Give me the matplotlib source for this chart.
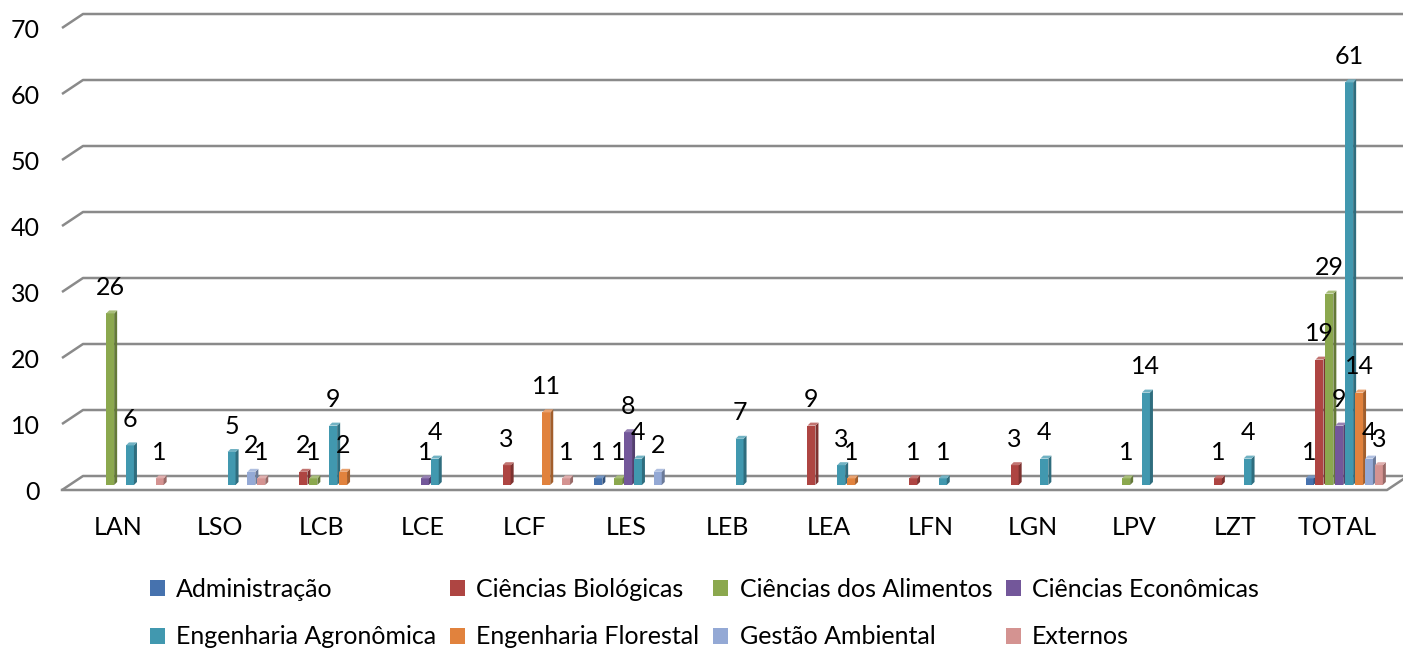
import matplotlib
matplotlib.use('Agg')
import matplotlib.pyplot as plt
from matplotlib.patches import Polygon, Patch
import matplotlib.transforms as mtransforms
import matplotlib.colors as mcolors
import numpy as np

# ---------------- data ----------------
categories = ['LAN', 'LSO', 'LCB', 'LCE', 'LCF', 'LES', 'LEB', 'LEA',
              'LFN', 'LGN', 'LPV', 'LZT', 'TOTAL']
series_names = ['Administração', 'Ciências Biológicas', 'Ciências dos Alimentos',
                'Ciências Econômicas', 'Engenharia Agronômica', 'Engenharia Florestal',
                'Gestão Ambiental', 'Externos']
administracao = [0, 0, 0, 0, 0, 1, 0, 0, 0, 0, 0, 0, 1]
biologicas    = [0, 0, 2, 0, 3, 0, 0, 9, 1, 3, 0, 1, 19]
alimentos     = [26, 0, 1, 0, 0, 1, 0, 0, 0, 0, 1, 0, 29]
economicas    = [0, 0, 0, 1, 0, 8, 0, 0, 0, 0, 0, 0, 9]
agronomica    = [6, 5, 9, 4, 0, 4, 7, 3, 1, 4, 14, 4, 61]
florestal     = [0, 0, 2, 0, 11, 0, 0, 1, 0, 0, 0, 0, 14]
gestao        = [0, 2, 0, 0, 0, 2, 0, 0, 0, 0, 0, 0, 4]
externos      = [1, 1, 0, 0, 1, 0, 0, 0, 0, 0, 0, 0, 3]
y_ticks = [0, 10, 20, 30, 40, 50, 60, 70]

series_values = [administracao, biologicas, alimentos, economicas,
                 agronomica, florestal, gestao, externos]
colors = ['#4672AE', '#AE4542', '#8BA84E', '#73579A',
          '#4198AF', '#E1823D', '#94A9D5', '#D49391']

# ---------------- style ----------------
plt.rcParams['font.family'] = ['Lato', 'DejaVu Sans']
FS = 18
GRID = '#8A8A8A'

W, H, DPI = 1403, 648, 100
fig = plt.figure(figsize=(W / DPI, H / DPI), dpi=DPI)

# geometry (pixels)
px_left, px_right = 62, 1403
px_bottom, px_top = 492, 14
cat0_px, cat_step_px = 118, 101.6
base_px, unit_px = 485, 6.6

ax = fig.add_axes([px_left / W, (H - px_bottom) / H,
                   (px_right - px_left) / W, (px_bottom - px_top) / H])
x_lo = (px_left - cat0_px) / cat_step_px
x_hi = (px_right - cat0_px) / cat_step_px
y_lo = (base_px - px_bottom) / unit_px
y_hi = (base_px - px_top) / unit_px
ax.set_xlim(x_lo, x_hi)
ax.set_ylim(y_lo, y_hi)
for sp in ax.spines.values():
    sp.set_visible(False)

dxp = 1.0 / cat_step_px
dyp = 1.0 / unit_px

# back-wall gridlines with perspective diagonal
front_off = -5 * dyp
back_off = 9 * dyp
x_back = (83 - cat0_px) / cat_step_px
for v in y_ticks:
    ax.plot([x_lo, x_back, x_hi], [v + front_off, v + back_off, v + back_off],
            color=GRID, lw=1.8, zorder=1, clip_on=False, solid_capstyle='butt')
# floor front edge
x_floor_end = (1387 - cat0_px) / cat_step_px
ax.plot([x_lo, x_floor_end, x_floor_end + 21 * dxp],
        [front_off, front_off, back_off],
        color=GRID, lw=1.8, zorder=1, clip_on=False)

# bars with simple 3D faces
step = 9.9 * dxp
bw = 8 * dxp
ddx = 3 * dxp
ddy = 3 * dyp
shift = 7 * dxp
xc = np.arange(len(categories))
n = len(series_values)

def shade(c, f):
    r, g, b = mcolors.to_rgb(c)
    if f < 1:
        return (r * f, g * f, b * f)
    return (r + (1 - r) * (f - 1), g + (1 - g) * (f - 1), b + (1 - b) * (f - 1))

for i, (vals, col, name) in enumerate(zip(series_values, colors, series_names)):
    xs = xc + shift + (i - (n - 1) / 2) * step
    z = 3 + i * 0.1
    ax.bar(xs, vals, width=bw, color=col, linewidth=0, zorder=z, label=name)
    for x, v in zip(xs, vals):
        if v == 0:
            continue
        xr = x + bw / 2
        xl = x - bw / 2
        ax.add_patch(Polygon([(xr, 0), (xr + ddx, ddy), (xr + ddx, v + ddy), (xr, v)],
                             closed=True, facecolor=shade(col, 0.72), lw=0, zorder=z))
        ax.add_patch(Polygon([(xl, v), (xr, v), (xr + ddx, v + ddy), (xl + ddx, v + ddy)],
                             closed=True, facecolor=shade(col, 1.25), lw=0, zorder=z))
        ax.annotate(str(v), (x, v), xytext=(0, 26 * 0.72), textcoords='offset points',
                    ha='center', va='center', fontsize=FS, color='black', zorder=10)

# ticks
ax.set_xticks(xc)
ax.set_xticklabels(categories, fontsize=FS)
ax.set_yticks(y_ticks)
ax.set_yticklabels([str(t) for t in y_ticks], fontsize=FS)
ax.tick_params(axis='both', length=0)
ax.tick_params(axis='y', pad=22 * 0.72)
ax.tick_params(axis='x', pad=24 * 0.72)
off_y = mtransforms.ScaledTranslation(0, -5 / DPI, fig.dpi_scale_trans)
for lab in ax.get_yticklabels():
    lab.set_transform(lab.get_transform() + off_y)

# legend (row-major order as in the reference)
order = [0, 4, 1, 5, 2, 6, 3, 7]
handles = [Patch(facecolor=colors[k], edgecolor='none') for k in order]
labels = [series_names[k] for k in order]
leg = fig.legend(handles, labels, ncol=4, loc='upper left',
                 bbox_to_anchor=(150 / W, 1 - 578 / H), bbox_transform=fig.transFigure,
                 frameon=False, fontsize=FS, borderpad=0, borderaxespad=0,
                 handlelength=0.6, handleheight=0.6, handletextpad=0.45,
                 columnspacing=0.55, labelspacing=0.98)

fig.savefig('out.png', dpi=DPI)
